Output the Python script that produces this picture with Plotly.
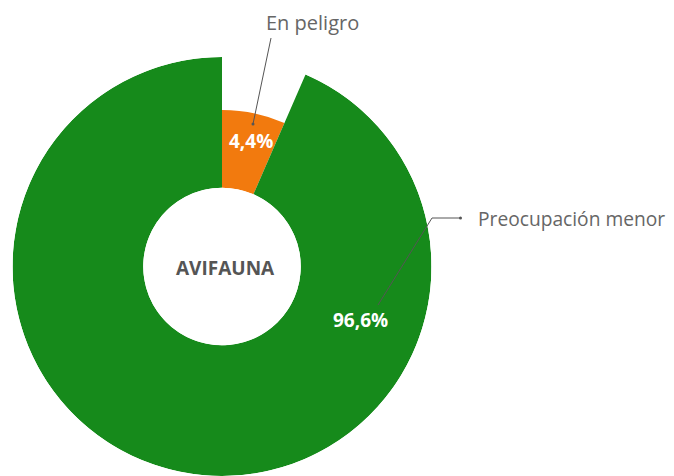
import plotly.graph_objects as go

# ---- data ----
categories = ["En peligro", "Preocupación menor"]
values = [4.4, 96.6]
value_labels = ["4,4%", "96,6%"]
center_label = "AVIFAUNA"

# ---- style ----
colors = ["#f27a0e", "#168a1b"]
radii = [0.595, 1.0]          # relative outer radius of each slice (rose style)
MIN_ANGLE = 23.5              # minimum angular span of a slice (degrees)
OFF = 8                       # page body margin
W, H = 674 - OFF, 476 - OFF
FONT = "Open Sans"

total = sum(values)
spans = [max(v / total * 360, MIN_ANGLE) for v in values]
spans[1] = 360 - spans[0]
starts = [0, spans[0]]

fig = go.Figure()
for cat, sp, st, r, c in zip(categories, spans, starts, radii, colors):
    fig.add_trace(go.Barpolar(
        r=[r], theta=[st + sp / 2], width=[sp], base=0,
        marker=dict(color=c, line=dict(width=0)),
        name=cat, hoverinfo="name",
    ))

def px(x):
    return (x - OFF) / W

def py(y):
    return 1 - (y - OFF) / H

fig.update_layout(
    width=W, height=H,
    margin=dict(l=0, r=0, t=0, b=0),
    paper_bgcolor="white", plot_bgcolor="white",
    showlegend=False,
    polar=dict(
        domain=dict(x=[px(12), px(432)], y=[0, py(57)]),
        hole=0.376,
        bgcolor="rgba(0,0,0,0)",
        radialaxis=dict(range=[0, 1], visible=False, showgrid=False),
        angularaxis=dict(rotation=90, direction="clockwise", visible=False,
                         showgrid=False),
        barmode="overlay",
    ),
    font=dict(family=FONT),
)

anns = [
    dict(x=px(251), y=py(141), text="<b>" + value_labels[0] + "</b>",
         font=dict(size=19, color="white")),
    dict(x=px(360), y=py(320), text="<b>" + value_labels[1] + "</b>",
         font=dict(size=19, color="white")),
    dict(x=px(225), y=py(268), text="<b>" + center_label + "</b>",
         font=dict(size=19, color="#555555")),
    dict(x=px(312), y=py(22), text=categories[0],
         font=dict(size=20, color="#666666")),
    dict(x=px(476), y=py(219), text=categories[1], xanchor="left",
         font=dict(size=19.2, color="#666666")),
]
for a in anns:
    a.setdefault("xanchor", "center")
    a.update(xref="paper", yref="paper", yanchor="middle", showarrow=False)
fig.update_layout(annotations=anns)

line = dict(color="#555555", width=1)
shapes = [
    dict(type="line", x0=px(271), y0=py(38), x1=px(253), y1=py(124), line=line),
    dict(type="circle", x0=px(251.5), y0=py(122.5), x1=px(254.5), y1=py(125.5),
         fillcolor="#555555", line=dict(width=0)),
    dict(type="line", x0=px(378), y0=py(305), x1=px(432), y1=py(218), line=line),
    dict(type="line", x0=px(432), y0=py(218), x1=px(460), y1=py(218), line=line),
    dict(type="circle", x0=px(459), y0=py(216.5), x1=px(462), y1=py(219.5),
         fillcolor="#555555", line=dict(width=0)),
]
for s in shapes:
    s.update(xref="paper", yref="paper")
fig.update_layout(shapes=shapes)

fig.write_html("out.html")
